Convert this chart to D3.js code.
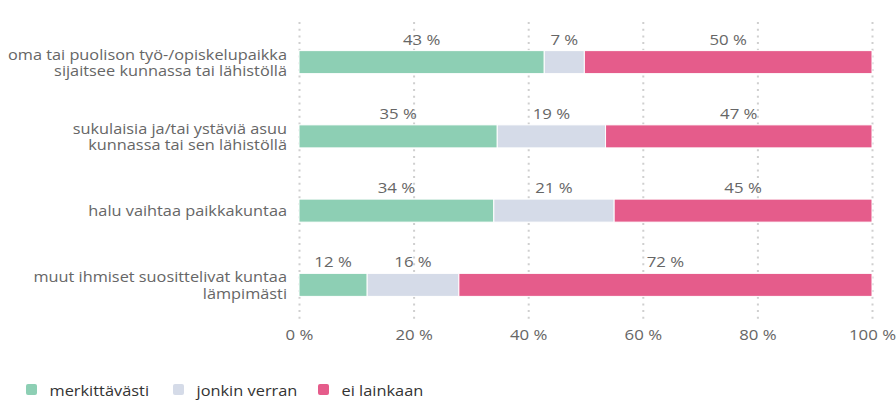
<!DOCTYPE html>
<html><head><meta charset="utf-8">
<script src="https://cdn.jsdelivr.net/npm/d3@7"></script>
<style>body{margin:0;background:#fff;font-family:"Open Sans",sans-serif;}</style>
</head><body><svg id="c" width="896" height="400"></svg>
<script>
const categories = [
  ["oma tai puolison työ-/opiskelupaikka","sijaitsee kunnassa tai lähistöllä"],
  ["sukulaisia ja/tai ystäviä asuu","kunnassa tai sen lähistöllä"],
  ["halu vaihtaa paikkakuntaa"],
  ["muut ihmiset suosittelivat kuntaa","lämpimästi"]
];
const seriesNames = ["merkittävästi","jonkin verran","ei lainkaan"];
const merkittavasti = [42.8, 34.6, 34.0, 11.9];
const jonkinVerran = [7.0, 18.9, 21.0, 16.0];
const eiLainkaan = [50.2, 46.5, 45.0, 72.1];
const tickValues = [0,20,40,60,80,100];
const colors = ["#8dcfb4","#d5dbe8","#e55c8b"];

const svg = d3.select("#c");
const x = d3.scaleLinear().domain([0,100]).range([299,872]);
const y = d3.scaleBand().domain(d3.range(categories.length)).range([25,322]).paddingInner(0.69).paddingOuter(0.345);
const series = [merkittavasti, jonkinVerran, eiLainkaan];

function wtext(px, py, str, anchor, size, fill, sx){
  return svg.append("text").attr("transform",`translate(${px},${py}) scale(${sx},1)`)
    .attr("text-anchor",anchor).attr("font-size",size).attr("fill",fill).text(str);
}

// grid
svg.append("g").selectAll("line").data(tickValues).join("line")
  .attr("x1",d=>x(d)+0.5).attr("x2",d=>x(d)+0.5).attr("y1",22).attr("y2",322)
  .attr("stroke","#cfcfcf").attr("stroke-width",2).attr("stroke-dasharray","2,4.7");

// x axis labels (positions from the axis scale)
const xa = svg.append("g").attr("transform","translate(0,327)")
  .call(d3.axisBottom(x).tickValues(tickValues).tickFormat(d=>d+" %").tickSize(0).tickPadding(0));
xa.select(".domain").remove();
xa.selectAll("text").attr("font-family","Open Sans").attr("font-size",14).attr("fill","#666")
  .attr("dy",null).attr("y",13).attr("transform","scale(1.2,1)");

// bars
categories.forEach((c,i)=>{
  let acc=0;
  series.forEach((s,j)=>{
    const v=s[i];
    const x0=x(acc), x1=x(acc+v);
    svg.append("rect").attr("x",x0).attr("y",y(i)).attr("width",x1-x0).attr("height",y.bandwidth())
      .attr("fill",colors[j]).attr("stroke","#fff").attr("stroke-width",1);
    wtext((x0+x1)/2, y(i)-6, Math.round(v)+" %", "middle", 14, "#666", 1.2);
    acc+=v;
  });
  const cy=y(i)+y.bandwidth()/2;
  if(c.length===1){
    wtext(287, cy+5, c[0], "end", 14, "#666", 1.165);
  } else {
    c.forEach((l,k)=>wtext(287, cy-2.5+k*16.5, l, "end", 14, "#666", 1.165));
  }
});

// legend
const lx=[26,173,318];
seriesNames.forEach((n,j)=>{
  svg.append("rect").attr("x",lx[j]).attr("y",384).attr("width",11).attr("height",11).attr("rx",2).attr("fill",colors[j]);
  wtext(lx[j]+23.5, 395.5, n, "start", 14, "#333", 1.17);
});
</script></body></html>
